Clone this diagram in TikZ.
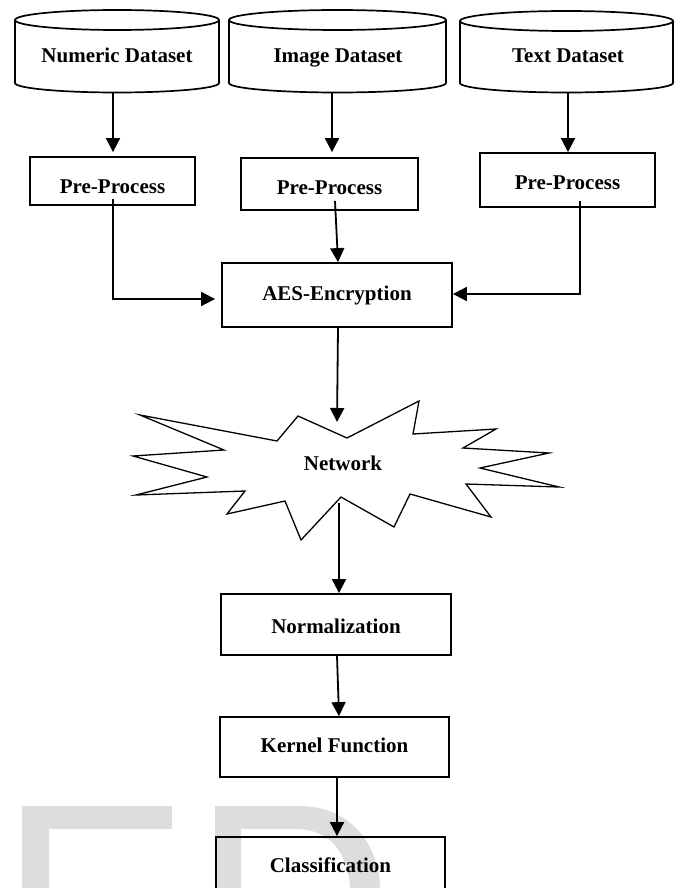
\documentclass[tikz,border=0pt]{standalone}
\usepackage{fontspec}
\setmainfont{Liberation Serif}
\usetikzlibrary{arrows.meta,calc}
\definecolor{wmgray}{RGB}{221,221,221}
\begin{document}
\begin{tikzpicture}[x=1pt,y=-1pt,
  lbl/.style={font=\fontsize{21}{25}\selectfont\bfseries,inner sep=0pt,text height=14pt,text depth=0pt},
  proc/.style={draw,line width=1.8pt,inner sep=0pt,font=\fontsize{21}{25}\selectfont\bfseries,text height=#1,text depth=0pt},
  proc/.default=14pt,
  arr/.style={line width=1.8pt,-{Triangle[width=14pt,length=14pt]}},
  cyl/.style={line width=1.7pt},
  star/.style={line width=1.3pt,line join=miter}]
\useasboundingbox (0,0) rectangle (676,888);
\clip (0,0) rectangle (676,888);
% watermark
\fill[wmgray] (22,806) -- (172,806) -- (172,829) -- (49,829) -- (49,888) -- (22,888) -- cycle;
\fill[wmgray] (215,806) -- (300,806) .. controls (348,806) and (379,842) .. (380,888)
  -- (350,888) .. controls (348,853) and (330,829) .. (296,829) -- (241,829) -- (241,888) -- (215,888) -- cycle;
% cylinders
\draw[cyl] (15,20) -- (15,83) arc[start angle=180,end angle=0,x radius=102,y radius=9.5] -- (219,20);
\draw[cyl] (117,20) ellipse[x radius=102,y radius=10];
\draw[cyl] (229,20) -- (229,83) arc[start angle=180,end angle=0,x radius=108.5,y radius=9.5] -- (446,20);
\draw[cyl] (337.5,20) ellipse[x radius=108.5,y radius=10];
\draw[cyl] (460,21) -- (460,83) arc[start angle=180,end angle=0,x radius=106.5,y radius=9.5] -- (673,21);
\draw[cyl] (566.5,21) ellipse[x radius=106.5,y radius=10];
\node[lbl] (d1) at (117,56) {Numeric Dataset};
\node[lbl] (d2) at (338,56) {Image Dataset};
\node[lbl] (d3) at (568,56) {Text Dataset};
\coordinate (d1b) at (113,92);
\coordinate (d2b) at (332,93);
\coordinate (d3b) at (568,92);
% pre-process
\node[proc=24pt,minimum width=165pt,minimum height=48pt] (pp1) at (112.5,181) {Pre-Process};
\node[proc=20pt,minimum width=177pt,minimum height=52pt] (pp2) at (329.5,184) {Pre-Process};
\node[proc=18pt,minimum width=175pt,minimum height=54pt] (pp3) at (567.5,180) {Pre-Process};
\node[proc=10pt,minimum width=230pt,minimum height=64pt] (aes) at (337,295) {AES-Encryption};
% network star
\draw[star] (140,415) -- (277,441) -- (298,416) -- (347,438) -- (419,401) -- (413,434)
  -- (496,429) -- (463,448) -- (549,453) -- (480,468) -- (559,487) -- (466,484)
  -- (491,517) -- (410,494) -- (394,527) -- (341,497) -- (301,540) -- (285,501)
  -- (227,514) -- (245,491) -- (136,495) -- (207,477) -- (133,456) -- (224,450) -- cycle;
\node[lbl] (net) at (343,463) {Network};
\coordinate (nettop) at (337,422);
\coordinate (netbot) at (339,503);
% lower chain
\node[proc=17pt,minimum width=230pt,minimum height=61pt] (norm) at (336,624.5) {Normalization};
\node[proc=11pt,minimum width=229pt,minimum height=60pt] (kern) at (334.5,747) {Kernel Function};
\node[proc=11pt,minimum width=229pt,minimum height=60pt] (cls) at (330.5,867) {Classification};
% connectors
\draw[arr,shorten >=4pt] (d1b) -- (d1b |- pp1.north);
\draw[arr,shorten >=5pt] (d2b) -- (d2b |- pp2.north);
\draw[arr] (d3b) -- (d3b |- pp3.north);
\draw[arr,shorten >=6pt] ([yshift=7pt,xshift=0.5pt]pp1.south) |- ([yshift=-4pt]aes.west);
\draw[arr] ([yshift=10pt,xshift=5.5pt]pp2.south) -- ([xshift=1pt]aes.north);
\draw[arr] ([yshift=7pt,xshift=12.5pt]pp3.south) |- ([yshift=1pt]aes.east);
\draw[arr] ([xshift=1pt]aes.south) -- (nettop);
\draw[arr] (netbot) -- (netbot |- norm.north);
\draw[arr] ([xshift=1pt]norm.south) -- ([xshift=4.5pt]kern.north);
\draw[arr] ([xshift=2.5pt,yshift=2pt]kern.south) -- ([xshift=6.5pt]cls.north);
\end{tikzpicture}
\end{document}
